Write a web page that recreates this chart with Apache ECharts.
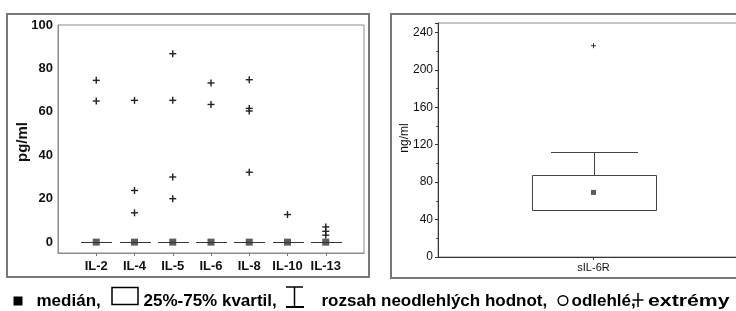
<!DOCTYPE html>
<html><head><meta charset="utf-8">
<script src="https://cdn.jsdelivr.net/npm/echarts@6/dist/echarts.min.js"></script>
<style>html,body{margin:0;padding:0;background:#fff}#c{width:736px;height:311px}</style>
</head><body><div id="c"></div>
<script>
// ---- Left panel data (pg/ml) ----
const categories = ['IL-2', 'IL-4', 'IL-5', 'IL-6', 'IL-8', 'IL-10', 'IL-13'];
const boxLow    = [0, 0, 0, 0, 0, 0, 0];
const boxQ1     = [0, 0, 0, 0, 0, 0, 0];
const boxMedian = [0, 0, 0, 0, 0, 0, 0];
const boxQ3     = [0, 0, 0, 0, 0, 0, 0];
const boxHigh   = [0, 0, 0, 0, 0, 0, 0];
const extremes  = [[74.5, 65], [65.3, 23.8, 13.5], [86.8, 65.3, 30, 20], [73.3, 63.4], [74.8, 61.6, 60.4, 32.2], [12.7], [7, 5, 3.2]];
const yTicksLeft = [0, 20, 40, 60, 80, 100];

// ---- Right panel data (ng/ml) ----
const rightCategories = ['sIL-6R'];
const rightLow    = [50];
const rightQ1     = [50];
const rightMedian = [69];
const rightQ3     = [88];
const rightHigh   = [112.5];
const rightExtremes = [[225.7]];

// ---- Legend texts ----
const legendTexts = ['medián,', '25%-75% kvartil,', 'rozsah neodlehlých hodnot,', 'odlehlé,', 'extrémy'];

const FONT = '"Liberation Sans", Arial, sans-serif';
const px = v => Math.round(v) + 0.5;

function boxRenderer(boxW, capW, stroke) {
  return function (params, api) {
    const x = api.value(0);
    const pLow = api.coord([x, api.value(1)]);
    const pQ1 = api.coord([x, api.value(2)]);
    const pQ3 = api.coord([x, api.value(4)]);
    const pHigh = api.coord([x, api.value(5)]);
    const cx = px(pLow[0]);
    const st = { stroke: stroke, lineWidth: 1, fill: null };
    const yH = px(pHigh[1]), yL = px(pLow[1]), y3 = px(pQ3[1]), y1 = px(pQ1[1]);
    return { type: 'group', children: [
      { type: 'line', shape: { x1: cx, y1: y3, x2: cx, y2: yH }, style: st },
      { type: 'line', shape: { x1: cx, y1: yL, x2: cx, y2: y1 }, style: st },
      { type: 'line', shape: { x1: cx - capW / 2, y1: yH, x2: cx + capW / 2, y2: yH }, style: st },
      { type: 'line', shape: { x1: cx - capW / 2, y1: yL, x2: cx + capW / 2, y2: yL }, style: st },
      { type: 'rect', shape: { x: cx - boxW / 2, y: y3, width: boxW, height: y1 - y3 }, style: { stroke: stroke, lineWidth: 1, fill: '#fff' } }
    ]};
  };
}
function plusRenderer(size, lw, color) {
  return function (params, api) {
    const p = api.coord([api.value(0), api.value(1)]);
    const h = size / 2;
    const st = { stroke: color, lineWidth: lw };
    return { type: 'group', children: [
      { type: 'line', shape: { x1: p[0] - h, y1: p[1], x2: p[0] + h, y2: p[1] }, style: st },
      { type: 'line', shape: { x1: p[0], y1: p[1] - h, x2: p[0], y2: p[1] + h }, style: st }
    ]};
  };
}

const leftBoxData = categories.map((c, i) => [i, boxLow[i], boxQ1[i], boxMedian[i], boxQ3[i], boxHigh[i]]);
const leftMedData = categories.map((c, i) => [i, boxMedian[i]]);
const leftExtData = [];
extremes.forEach((arr, i) => arr.forEach(v => leftExtData.push([i, v])));
const rightBoxData = rightCategories.map((c, i) => [i, rightLow[i], rightQ1[i], rightMedian[i], rightQ3[i], rightHigh[i]]);
const rightMedData = rightCategories.map((c, i) => [i, rightMedian[i]]);
const rightExtData = [];
rightExtremes.forEach((arr, i) => arr.forEach(v => rightExtData.push([i, v])));

const chart = echarts.init(document.getElementById('c'), null, { renderer: 'canvas' });
const legendY = 301.5;
chart.setOption({
  animation: false,
  backgroundColor: '#fff',
  textStyle: { fontFamily: FONT },
  grid: [
    { left: 58, top: 25, width: 306, height: 228, show: true, borderColor: '#8c8c8c', borderWidth: 1, backgroundColor: 'transparent', outerBoundsMode: 'none', containLabel: false },
    { left: 438, top: 23, width: 311, height: 234, show: true, borderColor: '#8c8c8c', borderWidth: 1, backgroundColor: 'transparent', outerBoundsMode: 'none', containLabel: false }
  ],
  xAxis: [
    { gridIndex: 0, type: 'value', min: -1, max: 7, interval: 1, splitLine: { show: false },
      axisLine: { show: true, onZero: false, lineStyle: { color: '#8c8c8c', width: 1 } },
      axisTick: { show: true, length: 3, lineStyle: { color: '#777' }, customValues: categories.map((c, i) => i) },
      axisLabel: { margin: 7, color: '#111', fontSize: 13, fontWeight: 'bold', fontFamily: FONT,
        customValues: categories.map((c, i) => i), formatter: v => categories[v] !== undefined ? categories[v] : '' } },
    { gridIndex: 1, type: 'value', min: -1, max: 1, interval: 1, splitLine: { show: false },
      axisLine: { show: true, onZero: false, lineStyle: { color: '#333', width: 1 } },
      axisTick: { show: true, length: 3, lineStyle: { color: '#333' }, customValues: [0] },
      axisLabel: { margin: 5, color: '#111', fontSize: 11, fontFamily: FONT,
        customValues: [0], formatter: v => rightCategories[v] !== undefined ? rightCategories[v] : '' } }
  ],
  yAxis: [
    { gridIndex: 0, type: 'value', min: -5, max: 100, splitLine: { show: false },
      axisLine: { show: true, onZero: false, lineStyle: { color: '#8c8c8c', width: 1 } },
      axisTick: { show: false },
      axisLabel: { margin: 5, color: '#111', fontSize: 13, fontWeight: 'bold', fontFamily: FONT, customValues: yTicksLeft } },
    { gridIndex: 1, type: 'value', min: 0, max: 250, interval: 40, splitLine: { show: false },
      axisLine: { show: true, onZero: false, lineStyle: { color: '#333', width: 1 } },
      axisTick: { show: true, length: 3, lineStyle: { color: '#333' } },
      minorTick: { show: true, splitNumber: 2, length: 2, lineStyle: { color: '#555' } },
      axisLabel: { margin: 5, color: '#111', fontSize: 12, fontFamily: FONT,
        formatter: v => v <= 240 ? String(v) : '' } }
  ],
  series: [
    { type: 'custom', xAxisIndex: 0, yAxisIndex: 0, data: leftBoxData, renderItem: boxRenderer(30, 30, '#333'), clip: false },
    { type: 'scatter', xAxisIndex: 0, yAxisIndex: 0, data: leftMedData, symbol: 'rect', symbolSize: 7, itemStyle: { color: '#333' } },
    { type: 'custom', xAxisIndex: 0, yAxisIndex: 0, data: leftExtData, renderItem: plusRenderer(7, 1.4, '#222') },
    { type: 'custom', xAxisIndex: 1, yAxisIndex: 1, data: rightBoxData, renderItem: boxRenderer(124, 87, '#444') },
    { type: 'scatter', xAxisIndex: 1, yAxisIndex: 1, data: rightMedData, symbol: 'rect', symbolSize: 5, itemStyle: { color: '#333' } },
    { type: 'custom', xAxisIndex: 1, yAxisIndex: 1, data: rightExtData, renderItem: plusRenderer(5, 1, '#333') }
  ],
  graphic: [
    { type: 'rect', shape: { x: 7, y: 14, width: 362, height: 263 }, style: { fill: null, stroke: '#777', lineWidth: 2 }, z: 100 },
    { type: 'rect', shape: { x: 391, y: 14, width: 360, height: 264 }, style: { fill: null, stroke: '#777', lineWidth: 2 }, z: 100 },
    { type: 'text', x: 23, y: 142, rotation: Math.PI / 2, style: { text: 'pg/ml', font: 'bold 15px ' + FONT, fill: '#111', align: 'center', verticalAlign: 'middle' } },
    { type: 'text', x: 405, y: 138, rotation: Math.PI / 2, style: { text: 'ng/ml', font: '12px ' + FONT, fill: '#111', align: 'center', verticalAlign: 'middle' } },
    // legend
    { type: 'rect', shape: { x: 13.5, y: 296.5, width: 9, height: 9 }, style: { fill: '#000' } },
    { type: 'text', x: 36.5, y: legendY, style: { text: legendTexts[0], font: 'bold 17px ' + FONT, fill: '#000', verticalAlign: 'middle' } },
    { type: 'rect', shape: { x: 112, y: 287.5, width: 26, height: 17 }, style: { fill: null, stroke: '#000', lineWidth: 1.5 } },
    { type: 'text', x: 143.5, y: legendY, style: { text: legendTexts[1], font: 'bold 17px ' + FONT, fill: '#000', verticalAlign: 'middle' } },
    { type: 'line', shape: { x1: 286, y1: 287, x2: 303, y2: 287 }, style: { stroke: '#000', lineWidth: 1.5 } },
    { type: 'line', shape: { x1: 294.5, y1: 287, x2: 294.5, y2: 307 }, style: { stroke: '#000', lineWidth: 1.5 } },
    { type: 'line', shape: { x1: 286, y1: 307, x2: 304, y2: 307 }, style: { stroke: '#000', lineWidth: 2 } },
    { type: 'text', x: 321.5, y: legendY, style: { text: legendTexts[2], font: 'bold 17px ' + FONT, fill: '#000', verticalAlign: 'middle' } },
    { type: 'circle', shape: { cx: 563, cy: 300.5, r: 4.8 }, style: { fill: null, stroke: '#000', lineWidth: 1.5 } },
    { type: 'text', x: 571.5, y: legendY, style: { text: legendTexts[3], font: 'bold 17px ' + FONT, fill: '#000', verticalAlign: 'middle' } },
    { type: 'line', shape: { x1: 632.5, y1: 300, x2: 643.5, y2: 300 }, style: { stroke: '#000', lineWidth: 1.5 } },
    { type: 'line', shape: { x1: 638, y1: 293, x2: 638, y2: 307 }, style: { stroke: '#000', lineWidth: 1.5 } },
    { type: 'text', x: 648, y: legendY, scaleX: 1.25, style: { text: legendTexts[4], font: 'bold 17px ' + FONT, fill: '#000', verticalAlign: 'middle' } }
  ]
});
</script></body></html>
